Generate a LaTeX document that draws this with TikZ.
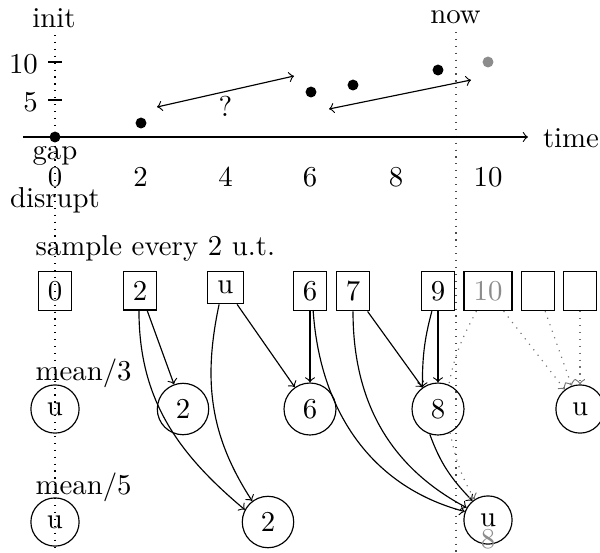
\documentclass[tikz,border=0pt]{standalone}
\begin{document}
\begin{tikzpicture}[x=0.3472pt,y=-0.3472pt,
  smp/.style={draw,rectangle,anchor=north,inner sep=3.33pt},
  avg/.style={draw,circle,inner sep=3.4pt},
  fut/.style={dotted,black!55},
  lbl/.style={inner sep=0pt,anchor=base},
  lblw/.style={inner sep=0pt,anchor=base west},
  dot/.style={circle,fill,inner sep=0pt,minimum size=3.8pt}
]
\useasboundingbox (0,0) rectangle (600,552);
% guide lines
\coordinate (i0) at (55,35); \coordinate (i1) at (55,548);
\draw[dotted] (i0) -- (i1);
\coordinate (n0) at (456,32); \coordinate (n1) at (456,552);
\draw[dotted,black!70] (n0) -- (n1);
\node (init) at (54,18) {init};
\node (now) at (455.5,17) {now};
% axes
\coordinate (ax0) at (23,137); \coordinate (ax1) at (528,137);
\draw[->] (ax0) -- (ax1);
\node (time) at (571,138.5) {time};
\draw (48,62) -- (62,62);
\draw (48,100) -- (62,100);
\node[anchor=east] (y10) at (48,64) {10};
\node[anchor=east] (y5) at (48,102) {5};
\node[lbl] (gap) at (55,159.5) {gap};
\node[lbl] (t0) at (55,186) {0};
\node[lbl] (dis) at (55,207) {disrupt};
\node[lbl] (t2) at (140.5,186) {2};
\node[lbl] (t4) at (225.5,186) {4};
\node[lbl] (t6) at (310,186) {6};
\node[lbl] (t8) at (396,186) {8};
\node[lbl] (t10) at (488,186) {10};
% points
\node[dot] (p0) at (55,137) {};
\node[dot] (p2) at (141,123) {};
\node[dot] (p6) at (311,92) {};
\node[dot] (p7) at (353,85) {};
\node[dot] (p9) at (438,70) {};
\node[dot,black!45] (p10) at (488,62) {};
\coordinate (a1) at (157,107); \coordinate (a2) at (294,76);
\draw[<->] (a1) -- (a2);
\node (q) at (225.5,106) {?};
\coordinate (b1) at (329,109); \coordinate (b2) at (471,80);
\draw[<->] (b1) -- (b2);
% labels
\node[lblw] (samp) at (35,255) {sample every 2 u.t.};
\node[lblw] (mean3) at (35,380.5) {mean/3};
\node[lblw] (mean5) at (35,494) {mean/5};
% samples
\node[smp] (s0) at (55,271) {0};
\node[smp] (s2) at (140,271) {2};
\node[smp] (su) at (225.5,271) {u};
\node[smp] (s6) at (310,271) {6};
\node[smp] (s7) at (353,271) {7};
\node[smp] (s9) at (438,271) {9};
\node[smp,text=black!45] (s10) at (488,271) {10};
\node[smp] (se1) at (538,271) {\phantom{0}};
\node[smp] (se2) at (580,271) {\phantom{0}};
% means
\node[avg] (m0) at (55,409) {u};
\node[avg] (m2) at (183,409) {2};
\node[avg] (m6) at (310,409) {6};
\node[avg] (m8) at (438,409) {8};
\node[avg] (mu) at (580,409) {u};
\node[avg] (f0) at (55,522) {u};
\node[avg] (f5) at (268,522) {2};
\node[avg] (fu) at (488,520) {u};
\node[text=black!45] (g8) at (488,539) {8};
% edges
\draw[->] (s2) -- (m2);
\draw[->] (s2.-93) to[out=-90,in=140] (f5.152);
\draw[->] (su.-111) to[out=-102,in=123] (f5.127);
\draw[->] (su) -- (m6);
\draw[->] (s6) -- (m6);
\draw[->] (s6.-81) to[out=-86,in=165] (fu.160);
\draw[->] (s7) -- (m8);
\draw[->] (s7.-90) to[out=-90,in=152] (fu.150);
\draw[->] (s9.-107) to[out=-105,in=90] (m8.126);
\draw[->] (s9) -- (m8);
\draw[->] (m8.-108) to[out=-70,in=134] (fu.129);
\draw[fut] (s10.-120) to[out=-118,in=79] (m8.66);
\draw[fut,->] (m8.-63) to[out=-78,in=120] (fu.123);
\draw[fut,->] (s10) -- (mu);
\draw[fut,->] (se1) -- (mu);
\draw[fut,->] (se2) -- (mu);
\end{tikzpicture}
\end{document}
